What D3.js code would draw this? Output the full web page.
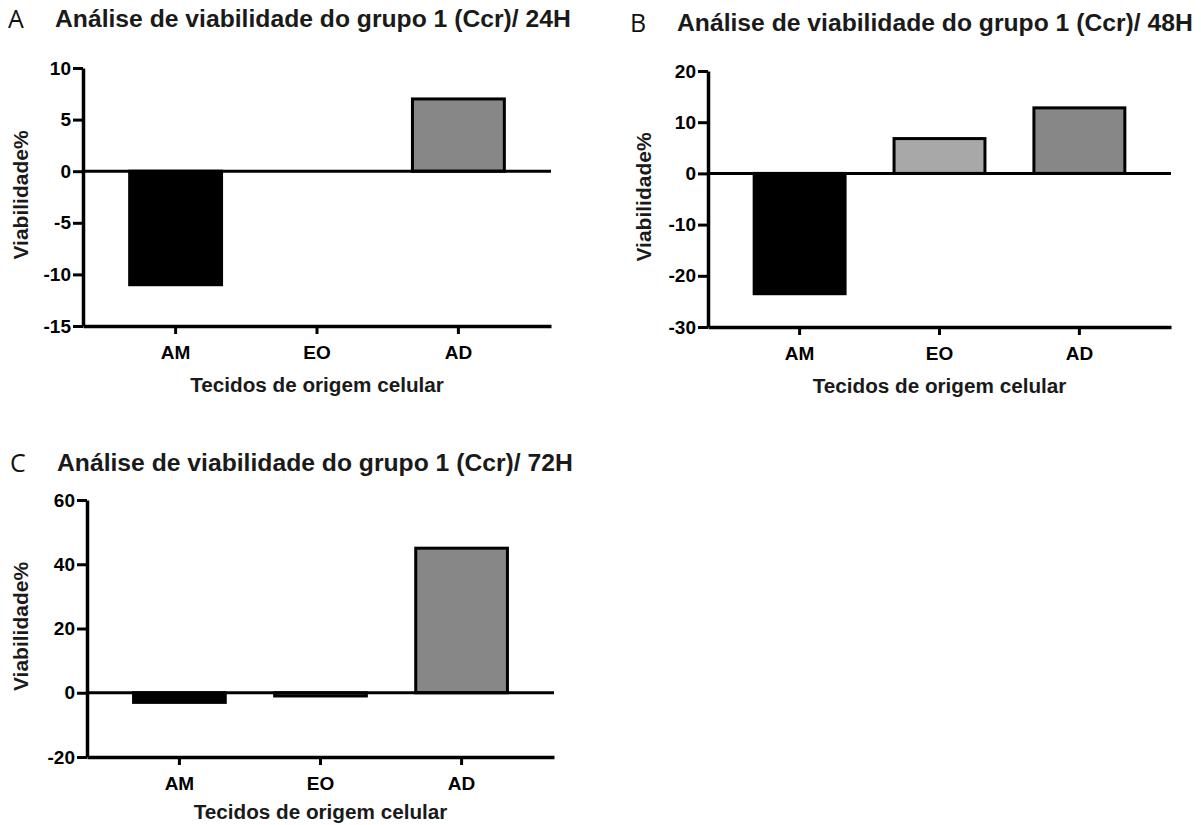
<!DOCTYPE html>
<html>
<head>
<meta charset="utf-8">
<script src="https://cdn.jsdelivr.net/npm/d3@7"></script>
<style>
  body { margin: 0; background: #fff; }
  svg { display: block; }
  .tick text { font-family: "Liberation Sans", Arial, sans-serif; font-weight: bold; }
</style>
</head>
<body>
<script>
// data
var categories = ["AM", "EO", "AD"];
var values24h = [-11, 0, 7];
var values48h = [-23.5, 6.8, 12.8];
var values72h = [-3, -1, 45];
var ticks24h = [-15, -10, -5, 0, 5, 10];
var ticks48h = [-30, -20, -10, 0, 10, 20];
var ticks72h = [-20, 0, 20, 40, 60];
var letters = ["A", "B", "C"];
var titles = [
    "Análise de viabilidade do grupo 1 (Ccr)/ 24H",
    "Análise de viabilidade do grupo 1 (Ccr)/ 48H",
    "Análise de viabilidade do grupo 1 (Ccr)/ 72H"
];
var xTitle = "Tecidos de origem celular";
var yTitle = "Viabilidade%";
var barColors = ["#000000", "#a8a8a8", "#878787"];

var width = 1201, height = 825;

var svg = d3.select("body")
    .append("svg")
    .attr("width", width)
    .attr("height", height);

// panel placement
var panels = [
    {values: values24h, ticks: ticks24h, x0: 83, x1: 551, yTop: 68, yBot: 326, tx: 8, ty: 27, ly: 20},
    {values: values48h, ticks: ticks48h, x0: 708, x1: 1171, yTop: 71, yBot: 327, tx: 630, ty: 31, ly: 643},
    {values: values72h, ticks: ticks72h, x0: 87, x1: 554, yTop: 500, yBot: 757, tx: 10, ty: 471, ly: 20}
];

panels.forEach(function (p, i) {
    var g = svg.append("g");

    var x = d3.scaleBand()
        .domain(categories)
        .range([p.x0, p.x1])
        .paddingInner(0.35)
        .paddingOuter(0.33);

    var y = d3.scaleLinear()
        .domain(d3.extent(p.ticks))
        .range([p.yBot, p.yTop]);

    // panel letter + title
    g.append("text")
        .attr("x", p.tx)
        .attr("y", p.ty + 1)
        .style("font-family", "'Open Sans', sans-serif")
        .style("font-size", "25px")
        .style("fill", "#111")
        .text(letters[i]);

    g.append("text")
        .attr("x", p.tx + 47)
        .attr("y", p.ty)
        .style("font-family", "'Liberation Sans', Arial, sans-serif")
        .style("font-weight", "bold")
        .style("font-size", "24.7px")
        .style("fill", "#1a1a1a")
        .text(titles[i]);

    // bars
    g.selectAll("rect.bar")
        .data(p.values)
        .enter().append("rect")
        .attr("class", "bar")
        .attr("x", function (d, j) { return x(categories[j]); })
        .attr("width", x.bandwidth())
        .attr("y", function (d) { return y(Math.max(0, d)); })
        .attr("height", function (d) { return Math.abs(y(d) - y(0)); })
        .style("fill", function (d, j) { return barColors[j]; })
        .style("stroke", "#000")
        .style("stroke-width", 3);

    // zero line
    g.append("line")
        .attr("x1", p.x0)
        .attr("x2", p.x1)
        .attr("y1", y(0))
        .attr("y2", y(0))
        .style("stroke", "#000")
        .style("stroke-width", 3);

    // y axis
    var yAxis = g.append("g")
        .attr("transform", "translate(" + p.x0 + ",0)")
        .call(d3.axisLeft(y)
            .tickValues(p.ticks)
            .tickFormat(function (d) { return String(d); })
            .tickSize(10).tickSizeOuter(0).tickPadding(2));
    yAxis.select(".domain").style("stroke-width", 3.5);
    yAxis.selectAll(".tick line").style("stroke-width", 3);
    yAxis.selectAll(".tick text").style("font-size", "19px").style("fill", "#000");

    // x axis
    var xAxis = g.append("g")
        .attr("transform", "translate(0," + p.yBot + ")")
        .call(d3.axisBottom(x).tickSize(8).tickSizeOuter(0).tickPadding(12));
    xAxis.select(".domain").style("stroke-width", 3.5);
    xAxis.selectAll(".tick line").style("stroke-width", 3);
    xAxis.selectAll(".tick text").style("font-size", "19px").style("fill", "#000");

    // axis titles
    g.append("text")
        .attr("x", (p.x0 + p.x1) / 2)
        .attr("y", Math.min(p.yBot + 66, 819))
        .attr("text-anchor", "middle")
        .style("font-family", "'Liberation Sans', Arial, sans-serif")
        .style("font-weight", "bold")
        .style("font-size", "20.7px")
        .style("fill", "#1a1a1a")
        .text(xTitle);

    g.append("text")
        .attr("transform", "translate(" + (p.ly + 8) + "," + ((p.yTop + p.yBot) / 2 - 2) + ") rotate(-90)")
        .attr("text-anchor", "middle")
        .style("font-family", "'Liberation Sans', Arial, sans-serif")
        .style("font-weight", "bold")
        .style("font-size", "21px")
        .style("fill", "#1a1a1a")
        .text(yTitle);
});
</script>
</body>
</html>
